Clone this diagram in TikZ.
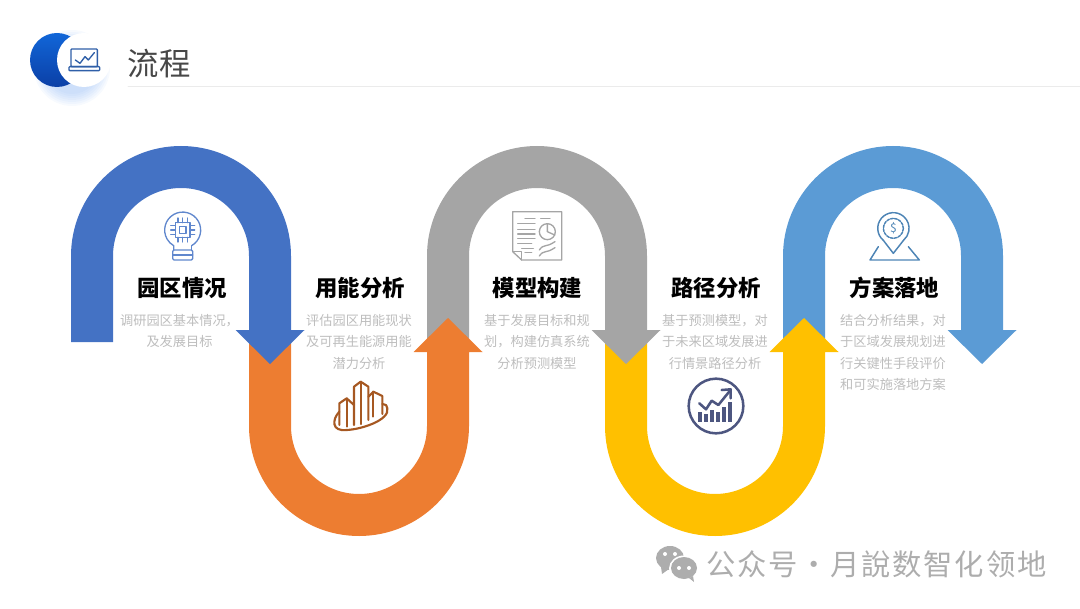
\documentclass[tikz,border=0pt]{standalone}
\usepackage{fontspec}
\setmainfont{Noto Sans CJK SC}
\definecolor{bandblue}{HTML}{4472C4}
\definecolor{bandorange}{HTML}{ED7D31}
\definecolor{bandgray}{HTML}{A5A5A5}
\definecolor{bandyellow}{HTML}{FFC000}
\definecolor{bandsky}{HTML}{5B9BD5}
\definecolor{bodygray}{HTML}{BDBDBD}
\definecolor{moontop}{HTML}{1166D8}
\definecolor{moonlow}{HTML}{0B3FA6}
\definecolor{moonglow}{HTML}{5B97F0}
\definecolor{laptop}{HTML}{2F5FA8}
\definecolor{chartline}{HTML}{4D5680}
\definecolor{markgray}{HTML}{ADADAD}
\begin{document}
\begin{tikzpicture}[x=.75pt,y=.75pt,line cap=round,line join=round,
  heading/.style={font=\fontsize{16.8}{20}\selectfont\bfseries,text=black,inner sep=0pt},
  bodytext/.style={font=\fontsize{9.9}{16}\selectfont,text=bodygray,align=center,anchor=north,inner sep=0pt},
  icon/.style={x=.25pt,y=-.25pt}]
\useasboundingbox (0,0) rectangle (1080,608);
% header
\foreach \r in {38,36,...,26}
  \fill[moonglow,opacity=.05] (72,540) circle (\r);
\shade[top color=moontop,bottom color=moonlow] (57,548) circle (27);
\fill[white] (84,548) circle (27);
\begin{scope}[shift={(0,598)},icon,draw=laptop,line width=1pt]
  \draw[rounded corners=.6pt] (213,117) rectangle (292,170);
  \draw[rounded corners=.6pt] (207,170) rectangle (299,182);
  \draw (226,150)--(240,160)--(255,140)--(265,150)--(283,128);
\end{scope}
\node[font=\fontsize{23.5}{26}\selectfont,text=black!72,inner sep=0pt] (title) at (159,544.5) {流程};
\draw[black!8,line width=.7pt] (128,522)--(1080,522);
% bands, last one first so that each head lies over the next band
\foreach \c/\col/\s in {893/bandsky/1,715/bandyellow/-1,537/bandgray/1,359/bandorange/-1,181/bandblue/1}
{
  \begin{scope}[shift={(0,267)},yscale=\s]
    \fill[\col] (\c-110,-1)--(\c-110,85) arc (180:0:110)--(\c+110,11)--(\c+123.5,11)
      --(\c+89,-23)--(\c+54.5,11)--(\c+68,11)--(\c+68,85) arc (0:180:68)--(\c-68,-1)--cycle;
  \end{scope}
}
% headings
\foreach \c/\name/\title in {182/a/园区情况,360/b/用能分析,537.5/c/模型构建,716/d/路径分析,894.5/e/方案落地}
  \node[heading] (head\name) at (\c,320) {\title};
% texts
\node[bodytext] (bodya) at (179.5,294) {调研园区基本情况，\\及发展目标};
\node[bodytext] (bodyb) at (359,294) {评估园区用能现状\\及可再生能源用能\\潜力分析};
\node[bodytext] (bodyc) at (537,294) {基于发展目标和规\\划，构建仿真系统\\分析预测模型};
\node[bodytext] (bodyd) at (715,294) {基于预测模型，对\\于未来区域发展进\\行情景路径分析};
\node[bodytext] (bodye) at (893,294) {结合分析结果，对\\于区域发展规划进\\行关键性手段评价\\和可实施落地方案};
% bulb
\begin{scope}[shift={(60,468)},icon,draw=bandblue!85!white,line width=1pt]
  \draw (395,317) arc (60:-240:54)--(341,330);
  \draw (395,317)--(395,330);
  \draw[rounded corners=1pt] (338,330) rectangle (398,360);
  \draw (338,345)--(398,345);
  \draw (346,248) rectangle (390,292);
  \draw (358,260) rectangle (378,280);
  \foreach \p in {-14,0,14} {
    \draw (368+\p,248)--(368+\p,234);
    \draw (368+\p,292)--(368+\p,306);
    \draw (346,270+\p)--(332,270+\p);
    \draw (390,270+\p)--(404,270+\p);
  }
\end{scope}
% buildings
\begin{scope}[shift={(290,338)},icon,draw=bandorange!70!black,line width=1.6pt]
  \draw (148,465)--(148,400)--(170,385)--(192,405)--(192,465);
  \draw (170,385)--(170,470);
  \draw (192,405)--(192,350)--(212,335)--(235,350)--(235,450);
  \draw (212,335)--(212,462);
  \draw (235,380)--(250,365)--(277,378)--(277,432);
  \draw (250,365)--(250,440);
  \draw (148,425) .. controls (125,450) and (125,485) .. (170,480)
    .. controls (215,478) and (300,450) .. (292,415) .. controls (290,405) .. (277,402);
\end{scope}
% report
\begin{scope}[shift={(470,418)},icon,draw=bandgray,line width=1pt]
  \draw (128,65)--(275,65)--(275,210)--(155,210)--(128,185)--cycle;
  \draw (128,185)--(155,185)--(155,210);
  \foreach \ya/\xa/\xb in {85/165/195,100/143/195,118/143/195,132/143/195,145/143/195,160/143/185,175/155/190,188/165/185,85/212/240}
    \draw (\xa,\ya)--(\xb,\ya);
  \draw (232,125) circle (24);
  \draw (232,101)--(232,125)--(254,135);
  \draw (208,180) .. controls (222,160) and (225,175) .. (255,155);
  \draw (208,198) .. controls (222,178) and (225,193) .. (255,173);
\end{scope}
% chart
\begin{scope}[shift={(650,338)},icon,draw=chartline,line width=1.9pt]
  \draw (198,408) circle (82);
  \foreach \xa/\ya in {150/425,168/432,186/420,204/425,222/410,240/395}
    \draw[line width=2.6pt,line cap=butt] (\xa,455)--(\xa,\ya);
  \draw (148,400)--(168,418)--(185,392)--(205,405)--(240,362);
  \draw (215,360)--(242,358)--(242,385);
\end{scope}
% pin
\begin{scope}[shift={(830,408)},icon,draw=bandsky!85!black,line width=1.1pt]
  \draw (190,160)--(160,121) arc (130:410:47)--cycle;
  \draw[dash pattern=on 2pt off 1pt] (190,85) circle (30);
  \draw (145,140)--(120,180)--(268,180)--(235,140);
  \node[text=bandsky!85!black,font=\fontsize{9}{10}\selectfont,inner sep=0pt] (dollar) at (190,85) {\$};
\end{scope}
% watermark
\fill[markgray] (670,50) ellipse (14 and 12);
\fill[markgray] (661,41)--(662,34)--(669,39)--cycle;
\fill[white] (684,39.5) ellipse (15 and 13);
\fill[markgray] (684,40) ellipse (13 and 11);
\fill[markgray] (689,30)--(694,26)--(693,32)--cycle;
\foreach \xa/\ya in {665/54,675/54,679/40,689/40}
  \fill[white] (\xa,\ya) circle (2);
\node[font=\fontsize{22}{24}\selectfont\addfontfeatures{LetterSpace=6},text=markgray,inner sep=0pt,anchor=west] (mark) at (706,44) {公众号·月說数智化领地};
\end{tikzpicture}
\end{document}
